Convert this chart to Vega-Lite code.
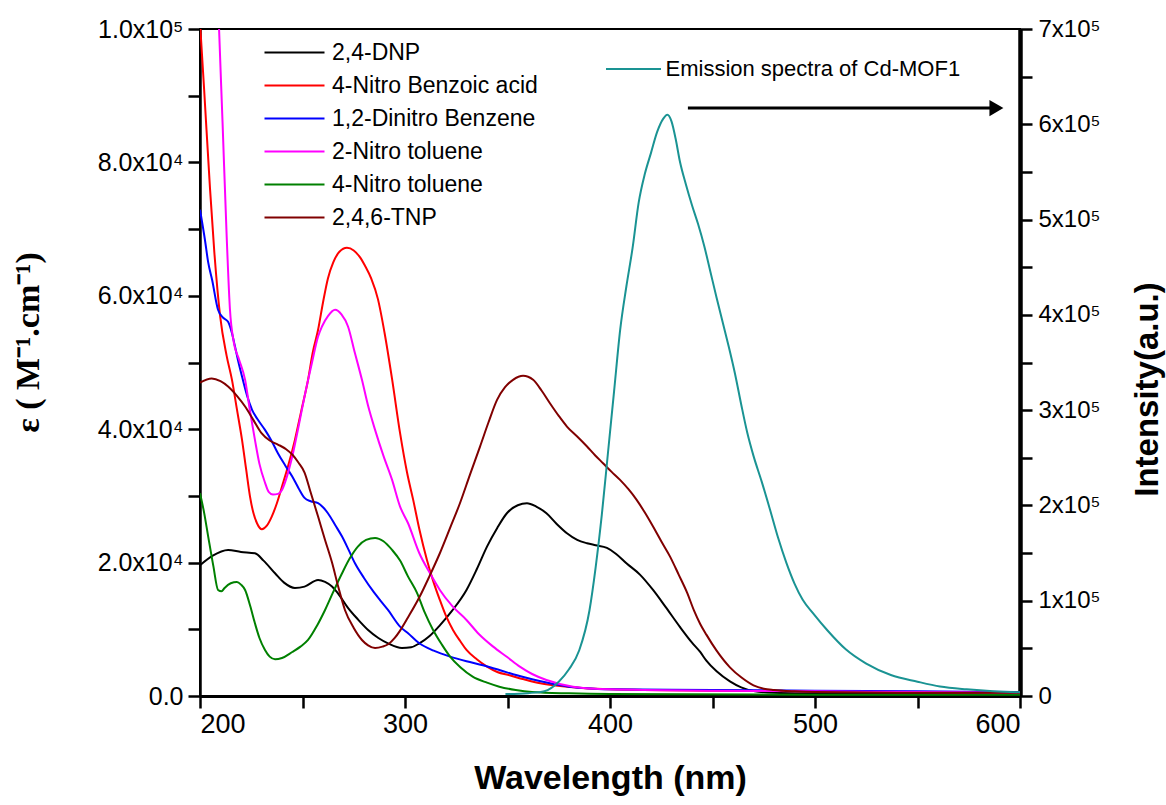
{
  "$schema": "https://vega.github.io/schema/vega-lite/v6.json",
  "width": 820,
  "height": 667,
  "autosize": {"type": "none"},
  "padding": {"left": 200, "top": 29, "right": 146, "bottom": 109},
  "background": "white",
  "config": {
    "font": "Liberation Sans",
    "view": {"stroke": "black", "strokeWidth": 2},
    "axis": {"grid": false, "labelColor": "black", "tickColor": "black", "domainColor": "black", "titleColor": "black"}
  },
  "datasets": {
    "abs": [
      {"s":"2,4-DNP","x":200,"y":19600},{"s":"2,4-DNP","x":206,"y":21000},{"s":"2,4-DNP","x":213.7,"y":21900},{"s":"2,4-DNP","x":220,"y":21600},{"s":"2,4-DNP","x":226.8,"y":21400},{"s":"2,4-DNP","x":231,"y":20300},{"s":"2,4-DNP","x":236.6,"y":18400},{"s":"2,4-DNP","x":241,"y":17000},{"s":"2,4-DNP","x":246.3,"y":16200},{"s":"2,4-DNP","x":251,"y":16400},{"s":"2,4-DNP","x":257.6,"y":17400},{"s":"2,4-DNP","x":261,"y":17100},{"s":"2,4-DNP","x":264.4,"y":16400},{"s":"2,4-DNP","x":268,"y":15100},{"s":"2,4-DNP","x":272,"y":13300},{"s":"2,4-DNP","x":277,"y":11500},{"s":"2,4-DNP","x":282,"y":9900},{"s":"2,4-DNP","x":287,"y":8700},{"s":"2,4-DNP","x":291.7,"y":7900},{"s":"2,4-DNP","x":298.5,"y":7200},{"s":"2,4-DNP","x":303,"y":7300},{"s":"2,4-DNP","x":307,"y":7900},{"s":"2,4-DNP","x":312,"y":9000},{"s":"2,4-DNP","x":317,"y":10600},{"s":"2,4-DNP","x":323,"y":12800},{"s":"2,4-DNP","x":330,"y":15900},{"s":"2,4-DNP","x":335,"y":19000},{"s":"2,4-DNP","x":340,"y":22400},{"s":"2,4-DNP","x":345,"y":25200},{"s":"2,4-DNP","x":349.7,"y":27400},{"s":"2,4-DNP","x":355,"y":28600},{"s":"2,4-DNP","x":359.5,"y":28900},{"s":"2,4-DNP","x":364,"y":28400},{"s":"2,4-DNP","x":369,"y":27400},{"s":"2,4-DNP","x":374,"y":25800},{"s":"2,4-DNP","x":379,"y":24400},{"s":"2,4-DNP","x":384,"y":23400},{"s":"2,4-DNP","x":388.8,"y":22900},{"s":"2,4-DNP","x":393,"y":22600},{"s":"2,4-DNP","x":398.5,"y":22200},{"s":"2,4-DNP","x":403,"y":21300},{"s":"2,4-DNP","x":408,"y":19900},{"s":"2,4-DNP","x":414.6,"y":18200},{"s":"2,4-DNP","x":421,"y":15900},{"s":"2,4-DNP","x":427,"y":13400},{"s":"2,4-DNP","x":434,"y":10400},{"s":"2,4-DNP","x":440,"y":8000},{"s":"2,4-DNP","x":444,"y":6600},{"s":"2,4-DNP","x":447,"y":5300},{"s":"2,4-DNP","x":452,"y":3700},{"s":"2,4-DNP","x":458.5,"y":2200},{"s":"2,4-DNP","x":464,"y":1300},{"s":"2,4-DNP","x":470,"y":750},{"s":"2,4-DNP","x":480,"y":500},{"s":"2,4-DNP","x":500,"y":400},{"s":"2,4-DNP","x":550,"y":300},{"s":"2,4-DNP","x":600,"y":300},

      {"s":"4-Nitro Benzoic acid","x":200,"y":101000},{"s":"4-Nitro Benzoic acid","x":202,"y":91000},{"s":"4-Nitro Benzoic acid","x":204.9,"y":76000},{"s":"4-Nitro Benzoic acid","x":207,"y":66500},{"s":"4-Nitro Benzoic acid","x":209.8,"y":57000},{"s":"4-Nitro Benzoic acid","x":213,"y":51000},{"s":"4-Nitro Benzoic acid","x":215.6,"y":47400},{"s":"4-Nitro Benzoic acid","x":218,"y":43000},{"s":"4-Nitro Benzoic acid","x":220.5,"y":38400},{"s":"4-Nitro Benzoic acid","x":222.5,"y":34000},{"s":"4-Nitro Benzoic acid","x":224.4,"y":29900},{"s":"4-Nitro Benzoic acid","x":226,"y":27500},{"s":"4-Nitro Benzoic acid","x":227.8,"y":25900},{"s":"4-Nitro Benzoic acid","x":230.2,"y":25000},{"s":"4-Nitro Benzoic acid","x":232.5,"y":25500},{"s":"4-Nitro Benzoic acid","x":235,"y":26900},{"s":"4-Nitro Benzoic acid","x":237.5,"y":28900},{"s":"4-Nitro Benzoic acid","x":240,"y":31400},{"s":"4-Nitro Benzoic acid","x":243,"y":34500},{"s":"4-Nitro Benzoic acid","x":246.3,"y":38400},{"s":"4-Nitro Benzoic acid","x":249.5,"y":42900},{"s":"4-Nitro Benzoic acid","x":252.7,"y":47400},{"s":"4-Nitro Benzoic acid","x":255,"y":51500},{"s":"4-Nitro Benzoic acid","x":257.6,"y":54900},{"s":"4-Nitro Benzoic acid","x":260,"y":59000},{"s":"4-Nitro Benzoic acid","x":262.4,"y":62600},{"s":"4-Nitro Benzoic acid","x":265,"y":65000},{"s":"4-Nitro Benzoic acid","x":268,"y":66600},{"s":"4-Nitro Benzoic acid","x":271.7,"y":67200},{"s":"4-Nitro Benzoic acid","x":275,"y":66800},{"s":"4-Nitro Benzoic acid","x":278,"y":65800},{"s":"4-Nitro Benzoic acid","x":280.5,"y":64500},{"s":"4-Nitro Benzoic acid","x":283.5,"y":62600},{"s":"4-Nitro Benzoic acid","x":286.8,"y":59500},{"s":"4-Nitro Benzoic acid","x":290,"y":54500},{"s":"4-Nitro Benzoic acid","x":293.7,"y":47500},{"s":"4-Nitro Benzoic acid","x":297.6,"y":39400},{"s":"4-Nitro Benzoic acid","x":301,"y":33500},{"s":"4-Nitro Benzoic acid","x":304,"y":29400},{"s":"4-Nitro Benzoic acid","x":307,"y":25000},{"s":"4-Nitro Benzoic acid","x":310.7,"y":20400},{"s":"4-Nitro Benzoic acid","x":314,"y":17000},{"s":"4-Nitro Benzoic acid","x":317,"y":14400},{"s":"4-Nitro Benzoic acid","x":320,"y":12000},{"s":"4-Nitro Benzoic acid","x":323.4,"y":9900},{"s":"4-Nitro Benzoic acid","x":327,"y":8200},{"s":"4-Nitro Benzoic acid","x":330,"y":6900},{"s":"4-Nitro Benzoic acid","x":335,"y":5500},{"s":"4-Nitro Benzoic acid","x":340,"y":4400},{"s":"4-Nitro Benzoic acid","x":345,"y":3600},{"s":"4-Nitro Benzoic acid","x":351,"y":3100},{"s":"4-Nitro Benzoic acid","x":358,"y":2500},{"s":"4-Nitro Benzoic acid","x":366,"y":1900},{"s":"4-Nitro Benzoic acid","x":379,"y":1400},{"s":"4-Nitro Benzoic acid","x":400,"y":1000},{"s":"4-Nitro Benzoic acid","x":450,"y":800},{"s":"4-Nitro Benzoic acid","x":500,"y":700},{"s":"4-Nitro Benzoic acid","x":550,"y":600},{"s":"4-Nitro Benzoic acid","x":600,"y":500},

      {"s":"1,2-Dinitro Benzene","x":200,"y":72900},{"s":"1,2-Dinitro Benzene","x":202.4,"y":68400},{"s":"1,2-Dinitro Benzene","x":204,"y":65000},{"s":"1,2-Dinitro Benzene","x":205.9,"y":62400},{"s":"1,2-Dinitro Benzene","x":208.8,"y":57900},{"s":"1,2-Dinitro Benzene","x":211,"y":56800},{"s":"1,2-Dinitro Benzene","x":213.7,"y":56100},{"s":"1,2-Dinitro Benzene","x":215.5,"y":54500},{"s":"1,2-Dinitro Benzene","x":217,"y":52500},{"s":"1,2-Dinitro Benzene","x":218.8,"y":50000},{"s":"1,2-Dinitro Benzene","x":220.5,"y":47900},{"s":"1,2-Dinitro Benzene","x":223,"y":45000},{"s":"1,2-Dinitro Benzene","x":225.4,"y":42900},{"s":"1,2-Dinitro Benzene","x":228.5,"y":41300},{"s":"1,2-Dinitro Benzene","x":231.7,"y":39900},{"s":"1,2-Dinitro Benzene","x":235,"y":38200},{"s":"1,2-Dinitro Benzene","x":238,"y":36400},{"s":"1,2-Dinitro Benzene","x":241.5,"y":34600},{"s":"1,2-Dinitro Benzene","x":245,"y":32900},{"s":"1,2-Dinitro Benzene","x":248,"y":31200},{"s":"1,2-Dinitro Benzene","x":251,"y":29700},{"s":"1,2-Dinitro Benzene","x":254,"y":29200},{"s":"1,2-Dinitro Benzene","x":257.6,"y":28900},{"s":"1,2-Dinitro Benzene","x":260,"y":28300},{"s":"1,2-Dinitro Benzene","x":262.4,"y":27400},{"s":"1,2-Dinitro Benzene","x":266,"y":25600},{"s":"1,2-Dinitro Benzene","x":269.3,"y":23900},{"s":"1,2-Dinitro Benzene","x":272.5,"y":21900},{"s":"1,2-Dinitro Benzene","x":275.6,"y":19900},{"s":"1,2-Dinitro Benzene","x":280,"y":17700},{"s":"1,2-Dinitro Benzene","x":284,"y":15900},{"s":"1,2-Dinitro Benzene","x":288,"y":14300},{"s":"1,2-Dinitro Benzene","x":291.7,"y":12900},{"s":"1,2-Dinitro Benzene","x":297.6,"y":10400},{"s":"1,2-Dinitro Benzene","x":301.5,"y":9400},{"s":"1,2-Dinitro Benzene","x":307,"y":7900},{"s":"1,2-Dinitro Benzene","x":314,"y":6800},{"s":"1,2-Dinitro Benzene","x":322,"y":5900},{"s":"1,2-Dinitro Benzene","x":330,"y":5200},{"s":"1,2-Dinitro Benzene","x":338,"y":4600},{"s":"1,2-Dinitro Benzene","x":346,"y":3900},{"s":"1,2-Dinitro Benzene","x":354.6,"y":3100},{"s":"1,2-Dinitro Benzene","x":362,"y":2500},{"s":"1,2-Dinitro Benzene","x":370.7,"y":1900},{"s":"1,2-Dinitro Benzene","x":380,"y":1400},{"s":"1,2-Dinitro Benzene","x":387,"y":1200},{"s":"1,2-Dinitro Benzene","x":400,"y":1000},{"s":"1,2-Dinitro Benzene","x":450,"y":900},{"s":"1,2-Dinitro Benzene","x":500,"y":800},{"s":"1,2-Dinitro Benzene","x":550,"y":700},{"s":"1,2-Dinitro Benzene","x":600,"y":600},

      {"s":"2-Nitro toluene","x":208,"y":112000},{"s":"2-Nitro toluene","x":209.3,"y":100000},{"s":"2-Nitro toluene","x":211,"y":86000},{"s":"2-Nitro toluene","x":213,"y":69000},{"s":"2-Nitro toluene","x":214.6,"y":58000},{"s":"2-Nitro toluene","x":216.5,"y":53000},{"s":"2-Nitro toluene","x":219,"y":50500},{"s":"2-Nitro toluene","x":222,"y":47400},{"s":"2-Nitro toluene","x":224.5,"y":42500},{"s":"2-Nitro toluene","x":226.8,"y":38400},{"s":"2-Nitro toluene","x":229,"y":34800},{"s":"2-Nitro toluene","x":231.7,"y":32000},{"s":"2-Nitro toluene","x":233.5,"y":30600},{"s":"2-Nitro toluene","x":235.6,"y":30200},{"s":"2-Nitro toluene","x":238,"y":30300},{"s":"2-Nitro toluene","x":240,"y":30900},{"s":"2-Nitro toluene","x":242.5,"y":33000},{"s":"2-Nitro toluene","x":245,"y":35900},{"s":"2-Nitro toluene","x":248,"y":40300},{"s":"2-Nitro toluene","x":251,"y":44900},{"s":"2-Nitro toluene","x":254.5,"y":49800},{"s":"2-Nitro toluene","x":257.6,"y":53900},{"s":"2-Nitro toluene","x":259.5,"y":55400},{"s":"2-Nitro toluene","x":262.5,"y":57000},{"s":"2-Nitro toluene","x":265.9,"y":57900},{"s":"2-Nitro toluene","x":269,"y":57200},{"s":"2-Nitro toluene","x":272.2,"y":55400},{"s":"2-Nitro toluene","x":275.5,"y":51500},{"s":"2-Nitro toluene","x":279,"y":47400},{"s":"2-Nitro toluene","x":282,"y":43500},{"s":"2-Nitro toluene","x":285.4,"y":39900},{"s":"2-Nitro toluene","x":289.5,"y":36000},{"s":"2-Nitro toluene","x":293.7,"y":32400},{"s":"2-Nitro toluene","x":297.6,"y":28400},{"s":"2-Nitro toluene","x":301.5,"y":25900},{"s":"2-Nitro toluene","x":307,"y":21400},{"s":"2-Nitro toluene","x":312,"y":18500},{"s":"2-Nitro toluene","x":317,"y":15900},{"s":"2-Nitro toluene","x":323,"y":13500},{"s":"2-Nitro toluene","x":330,"y":11400},{"s":"2-Nitro toluene","x":336,"y":9300},{"s":"2-Nitro toluene","x":343,"y":7400},{"s":"2-Nitro toluene","x":350,"y":5800},{"s":"2-Nitro toluene","x":356,"y":4400},{"s":"2-Nitro toluene","x":362,"y":3300},{"s":"2-Nitro toluene","x":369,"y":2400},{"s":"2-Nitro toluene","x":382,"y":1400},{"s":"2-Nitro toluene","x":400,"y":1000},{"s":"2-Nitro toluene","x":450,"y":800},{"s":"2-Nitro toluene","x":500,"y":700},{"s":"2-Nitro toluene","x":550,"y":600},{"s":"2-Nitro toluene","x":600,"y":500},

      {"s":"4-Nitro toluene","x":200,"y":30400},{"s":"4-Nitro toluene","x":202,"y":27500},{"s":"4-Nitro toluene","x":204,"y":23900},{"s":"4-Nitro toluene","x":206.5,"y":19500},{"s":"4-Nitro toluene","x":208.8,"y":15900},{"s":"4-Nitro toluene","x":210.5,"y":15700},{"s":"4-Nitro toluene","x":212,"y":16200},{"s":"4-Nitro toluene","x":215,"y":16900},{"s":"4-Nitro toluene","x":218,"y":17100},{"s":"4-Nitro toluene","x":220,"y":16700},{"s":"4-Nitro toluene","x":222,"y":15900},{"s":"4-Nitro toluene","x":224.5,"y":13500},{"s":"4-Nitro toluene","x":226.8,"y":10900},{"s":"4-Nitro toluene","x":229,"y":8700},{"s":"4-Nitro toluene","x":231.7,"y":6900},{"s":"4-Nitro toluene","x":234,"y":5900},{"s":"4-Nitro toluene","x":236.6,"y":5500},{"s":"4-Nitro toluene","x":240,"y":5700},{"s":"4-Nitro toluene","x":245,"y":6600},{"s":"4-Nitro toluene","x":249,"y":7400},{"s":"4-Nitro toluene","x":252.7,"y":8400},{"s":"4-Nitro toluene","x":257,"y":10500},{"s":"4-Nitro toluene","x":261,"y":12900},{"s":"4-Nitro toluene","x":265,"y":15600},{"s":"4-Nitro toluene","x":269.3,"y":18400},{"s":"4-Nitro toluene","x":273,"y":20600},{"s":"4-Nitro toluene","x":277,"y":22400},{"s":"4-Nitro toluene","x":281,"y":23400},{"s":"4-Nitro toluene","x":285.4,"y":23700},{"s":"4-Nitro toluene","x":289.5,"y":23200},{"s":"4-Nitro toluene","x":293.7,"y":21900},{"s":"4-Nitro toluene","x":297.6,"y":20300},{"s":"4-Nitro toluene","x":301.5,"y":17900},{"s":"4-Nitro toluene","x":305.8,"y":15500},{"s":"4-Nitro toluene","x":309.5,"y":12600},{"s":"4-Nitro toluene","x":313.7,"y":9900},{"s":"4-Nitro toluene","x":318,"y":7700},{"s":"4-Nitro toluene","x":322,"y":5900},{"s":"4-Nitro toluene","x":327,"y":4300},{"s":"4-Nitro toluene","x":333,"y":2900},{"s":"4-Nitro toluene","x":340,"y":2000},{"s":"4-Nitro toluene","x":346,"y":1400},{"s":"4-Nitro toluene","x":354,"y":900},{"s":"4-Nitro toluene","x":362,"y":600},{"s":"4-Nitro toluene","x":380,"y":400},{"s":"4-Nitro toluene","x":400,"y":300},{"s":"4-Nitro toluene","x":500,"y":200},{"s":"4-Nitro toluene","x":600,"y":200},

      {"s":"2,4,6-TNP","x":200,"y":47000},{"s":"2,4,6-TNP","x":205.7,"y":47600},{"s":"2,4,6-TNP","x":210,"y":47200},{"s":"2,4,6-TNP","x":213.7,"y":46400},{"s":"2,4,6-TNP","x":218,"y":45000},{"s":"2,4,6-TNP","x":222,"y":43400},{"s":"2,4,6-TNP","x":226,"y":41400},{"s":"2,4,6-TNP","x":230,"y":39400},{"s":"2,4,6-TNP","x":234,"y":38300},{"s":"2,4,6-TNP","x":238,"y":37700},{"s":"2,4,6-TNP","x":242,"y":37000},{"s":"2,4,6-TNP","x":245,"y":36200},{"s":"2,4,6-TNP","x":248,"y":35000},{"s":"2,4,6-TNP","x":251,"y":33500},{"s":"2,4,6-TNP","x":254,"y":30500},{"s":"2,4,6-TNP","x":257.6,"y":26900},{"s":"2,4,6-TNP","x":261,"y":23400},{"s":"2,4,6-TNP","x":264.4,"y":20000},{"s":"2,4,6-TNP","x":267.5,"y":16300},{"s":"2,4,6-TNP","x":270.7,"y":12900},{"s":"2,4,6-TNP","x":275,"y":10200},{"s":"2,4,6-TNP","x":279,"y":8400},{"s":"2,4,6-TNP","x":282,"y":7600},{"s":"2,4,6-TNP","x":285.4,"y":7200},{"s":"2,4,6-TNP","x":289,"y":7400},{"s":"2,4,6-TNP","x":292,"y":7800},{"s":"2,4,6-TNP","x":295,"y":8700},{"s":"2,4,6-TNP","x":297.6,"y":9800},{"s":"2,4,6-TNP","x":301.5,"y":11800},{"s":"2,4,6-TNP","x":307,"y":14800},{"s":"2,4,6-TNP","x":312,"y":18000},{"s":"2,4,6-TNP","x":317,"y":21400},{"s":"2,4,6-TNP","x":322,"y":25200},{"s":"2,4,6-TNP","x":326.8,"y":28900},{"s":"2,4,6-TNP","x":331.7,"y":33200},{"s":"2,4,6-TNP","x":336.6,"y":37400},{"s":"2,4,6-TNP","x":340.7,"y":41000},{"s":"2,4,6-TNP","x":344.9,"y":44400},{"s":"2,4,6-TNP","x":348.8,"y":46300},{"s":"2,4,6-TNP","x":352.7,"y":47400},{"s":"2,4,6-TNP","x":357.6,"y":48000},{"s":"2,4,6-TNP","x":362.5,"y":47400},{"s":"2,4,6-TNP","x":366.6,"y":45800},{"s":"2,4,6-TNP","x":370.7,"y":43900},{"s":"2,4,6-TNP","x":375,"y":42000},{"s":"2,4,6-TNP","x":379,"y":40400},{"s":"2,4,6-TNP","x":384,"y":38900},{"s":"2,4,6-TNP","x":388.8,"y":37400},{"s":"2,4,6-TNP","x":392.7,"y":36100},{"s":"2,4,6-TNP","x":396.6,"y":34900},{"s":"2,4,6-TNP","x":400.8,"y":33600},{"s":"2,4,6-TNP","x":404.9,"y":32400},{"s":"2,4,6-TNP","x":409,"y":31000},{"s":"2,4,6-TNP","x":413,"y":29400},{"s":"2,4,6-TNP","x":417,"y":27500},{"s":"2,4,6-TNP","x":421,"y":25400},{"s":"2,4,6-TNP","x":425,"y":23200},{"s":"2,4,6-TNP","x":429.3,"y":20900},{"s":"2,4,6-TNP","x":433.5,"y":18200},{"s":"2,4,6-TNP","x":437.6,"y":15500},{"s":"2,4,6-TNP","x":441,"y":12800},{"s":"2,4,6-TNP","x":444,"y":10800},{"s":"2,4,6-TNP","x":447,"y":9200},{"s":"2,4,6-TNP","x":452,"y":6800},{"s":"2,4,6-TNP","x":458.5,"y":4300},{"s":"2,4,6-TNP","x":464,"y":2800},{"s":"2,4,6-TNP","x":470,"y":1600},{"s":"2,4,6-TNP","x":475,"y":1100},{"s":"2,4,6-TNP","x":480,"y":900},{"s":"2,4,6-TNP","x":490,"y":700},{"s":"2,4,6-TNP","x":500,"y":600},{"s":"2,4,6-TNP","x":550,"y":500},{"s":"2,4,6-TNP","x":600,"y":500}
    ],
    "em": [
      {"s":"Emission spectra of Cd-MOF1","x":349,"y":2000},{"s":"Emission spectra of Cd-MOF1","x":360,"y":3000},{"s":"Emission spectra of Cd-MOF1","x":368,"y":5000},{"s":"Emission spectra of Cd-MOF1","x":375,"y":15000},{"s":"Emission spectra of Cd-MOF1","x":380,"y":28000},{"s":"Emission spectra of Cd-MOF1","x":385,"y":48000},{"s":"Emission spectra of Cd-MOF1","x":390,"y":90000},{"s":"Emission spectra of Cd-MOF1","x":393,"y":135000},{"s":"Emission spectra of Cd-MOF1","x":396,"y":190000},{"s":"Emission spectra of Cd-MOF1","x":399,"y":255000},{"s":"Emission spectra of Cd-MOF1","x":402,"y":320000},{"s":"Emission spectra of Cd-MOF1","x":405,"y":385000},{"s":"Emission spectra of Cd-MOF1","x":408,"y":430000},{"s":"Emission spectra of Cd-MOF1","x":411,"y":470000},{"s":"Emission spectra of Cd-MOF1","x":414,"y":518000},{"s":"Emission spectra of Cd-MOF1","x":417,"y":548000},{"s":"Emission spectra of Cd-MOF1","x":420,"y":570000},{"s":"Emission spectra of Cd-MOF1","x":423,"y":592000},{"s":"Emission spectra of Cd-MOF1","x":426,"y":606000},{"s":"Emission spectra of Cd-MOF1","x":428,"y":610000},{"s":"Emission spectra of Cd-MOF1","x":430,"y":603000},{"s":"Emission spectra of Cd-MOF1","x":432,"y":585000},{"s":"Emission spectra of Cd-MOF1","x":434,"y":562000},{"s":"Emission spectra of Cd-MOF1","x":437,"y":537000},{"s":"Emission spectra of Cd-MOF1","x":440,"y":515000},{"s":"Emission spectra of Cd-MOF1","x":443,"y":495000},{"s":"Emission spectra of Cd-MOF1","x":446,"y":472000},{"s":"Emission spectra of Cd-MOF1","x":449,"y":445000},{"s":"Emission spectra of Cd-MOF1","x":452,"y":418000},{"s":"Emission spectra of Cd-MOF1","x":455,"y":392000},{"s":"Emission spectra of Cd-MOF1","x":458,"y":366000},{"s":"Emission spectra of Cd-MOF1","x":461,"y":338000},{"s":"Emission spectra of Cd-MOF1","x":464,"y":306000},{"s":"Emission spectra of Cd-MOF1","x":467,"y":276000},{"s":"Emission spectra of Cd-MOF1","x":470,"y":252000},{"s":"Emission spectra of Cd-MOF1","x":474,"y":225000},{"s":"Emission spectra of Cd-MOF1","x":478,"y":196000},{"s":"Emission spectra of Cd-MOF1","x":482,"y":166000},{"s":"Emission spectra of Cd-MOF1","x":486,"y":140000},{"s":"Emission spectra of Cd-MOF1","x":490,"y":118000},{"s":"Emission spectra of Cd-MOF1","x":494,"y":101000},{"s":"Emission spectra of Cd-MOF1","x":499,"y":87000},{"s":"Emission spectra of Cd-MOF1","x":506,"y":69000},{"s":"Emission spectra of Cd-MOF1","x":515,"y":49000},{"s":"Emission spectra of Cd-MOF1","x":525,"y":34000},{"s":"Emission spectra of Cd-MOF1","x":537,"y":22000},{"s":"Emission spectra of Cd-MOF1","x":550,"y":15000},{"s":"Emission spectra of Cd-MOF1","x":561,"y":10000},{"s":"Emission spectra of Cd-MOF1","x":574,"y":7000},{"s":"Emission spectra of Cd-MOF1","x":587,"y":5000},{"s":"Emission spectra of Cd-MOF1","x":600,"y":4000}
    ],
    "arrow": [
      {"x1": 438, "x2": 586, "xh": 588.5, "y": 617000}
    ]
  },
  "layer": [
    {
      "data": {"name": "abs"},
      "mark": {"type": "line", "strokeWidth": 2, "interpolate": "monotone", "clip": true},
      "encoding": {
        "x": {
          "field": "x", "type": "quantitative",
          "scale": {"domain": [200, 600], "nice": false, "zero": false},
          "axis": {
            "title": "Wavelength (nm)",
            "values": [200, 250, 300, 350, 400, 450, 500, 550, 600],
            "labelExpr": "datum.value % 100 === 0 ? datum.label : ''",
            "format": "d",
            "domainWidth": 3,
            "tickWidth": 2.5,
            "tickSize": 12,
            "encode": {"ticks": {"update": {"y2": {"signal": "datum.value % 100 === 0 ? 12 : 7"}}}},
            "labelFont": "Liberation Sans",
            "labelFontSize": 27,
            "labelPadding": 3,
            "titleFont": "Liberation Sans",
            "titleFontSize": 34,
            "titleFontWeight": "bold",
            "titleX": 410,
            "titleY": 82,
            "titleBaseline": "middle",
            "titleAlign": "center"
          }
        },
        "y": {
          "field": "y", "type": "quantitative",
          "scale": {"domain": [0, 100000], "nice": false},
          "axis": {
            "orient": "left",
            "title": "ε ( M⁻¹.cm⁻¹)",
            "values": [0, 10000, 20000, 30000, 40000, 50000, 60000, 70000, 80000, 90000, 100000],
            "labelExpr": "datum.value === 0 ? '0.0' : datum.value === 20000 ? '2.0x10⁴' : datum.value === 40000 ? '4.0x10⁴' : datum.value === 60000 ? '6.0x10⁴' : datum.value === 80000 ? '8.0x10⁴' : datum.value === 100000 ? '1.0x10⁵' : ''",
            "domainWidth": 2.5,
            "tickWidth": 2.5,
            "tickSize": 12,
            "encode": {"ticks": {"update": {"x2": {"signal": "datum.value % 20000 === 0 ? -12 : -7"}}}},
            "labelFont": "Liberation Sans",
            "labelFontSize": 25,
            "labelPadding": 5,
            "titleFont": "Liberation Serif",
            "titleFontSize": 34,
            "titleFontWeight": "bold",
            "titleAngle": 270,
            "titleX": -172,
            "titleY": 313,
            "titleBaseline": "middle",
            "titleAlign": "center"
          }
        },
        "color": {
          "field": "s", "type": "nominal",
          "scale": {
            "domain": ["2,4-DNP", "4-Nitro Benzoic acid", "1,2-Dinitro Benzene", "2-Nitro toluene", "4-Nitro toluene", "2,4,6-TNP"],
            "range": ["#000000", "#ff0000", "#0000ff", "#ff00ff", "#008000", "#800000"]
          },
          "legend": {
            "orient": "none", "legendX": 83, "legendY": 12, "title": null,
            "symbolType": "M-3,0H3", "symbolSize": 400, "symbolStrokeWidth": 2,
            "labelFont": "Liberation Sans", "labelFontSize": 23, "labelColor": "black", "labelLimit": 0,
            "labelOffset": 26, "rowPadding": 9, "padding": 0
          }
        }
      }
    },
    {
      "layer": [
        {
          "data": {"name": "em"},
          "mark": {"type": "line", "strokeWidth": 2, "interpolate": "monotone", "clip": true},
          "encoding": {
            "x": {"field": "x", "type": "quantitative"},
            "y": {
              "field": "y", "type": "quantitative",
              "scale": {"domain": [0, 700000], "nice": false},
              "axis": {
                "orient": "right",
                "title": "Intensity(a.u.)",
                "values": [0, 50000, 100000, 150000, 200000, 250000, 300000, 350000, 400000, 450000, 500000, 550000, 600000, 650000, 700000],
                "labelExpr": "datum.value === 0 ? '0' : datum.value % 100000 === 0 ? (datum.value / 100000) + 'x10⁵' : ''",
                "domainWidth": 4.5,
                "tickWidth": 2.5,
                "tickSize": 12,
                "encode": {"ticks": {"update": {"x2": {"signal": "datum.value % 100000 === 0 ? 12 : 6"}}}},
                "labelFont": "Liberation Sans",
                "labelFontSize": 24,
                "labelPadding": 6,
                "titleFont": "Liberation Sans",
                "titleFontSize": 33,
                "titleFontWeight": "bold",
                "titleAngle": 270,
                "titleX": 127,
                "titleY": 360,
                "titleBaseline": "middle",
                "titleAlign": "center"
              }
            },
            "color": {
              "field": "s", "type": "nominal",
              "scale": {"domain": ["Emission spectra of Cd-MOF1"], "range": ["#1a9393"]},
              "legend": {
                "orient": "none", "legendX": 422.5, "legendY": 29, "title": null,
                "symbolType": "M-2.75,0H2.75", "symbolSize": 400, "symbolStrokeWidth": 2,
                "labelFont": "Liberation Sans", "labelFontSize": 22, "labelColor": "black", "labelLimit": 0,
                "labelOffset": 21, "padding": 0
              }
            }
          }
        },
        {
          "data": {"name": "arrow"},
          "mark": {"type": "rule", "color": "black", "strokeWidth": 3},
          "encoding": {
            "x": {"field": "x1", "type": "quantitative"},
            "x2": {"field": "x2"},
            "y": {"field": "y", "type": "quantitative"}
          }
        },
        {
          "data": {"name": "arrow"},
          "mark": {"type": "point", "shape": "triangle-right", "filled": true, "color": "black", "opacity": 1, "size": 260},
          "encoding": {
            "x": {"field": "xh", "type": "quantitative"},
            "y": {"field": "y", "type": "quantitative"}
          }
        }
      ]
    }
  ],
  "resolve": {"scale": {"y": "independent", "color": "independent"}}
}
